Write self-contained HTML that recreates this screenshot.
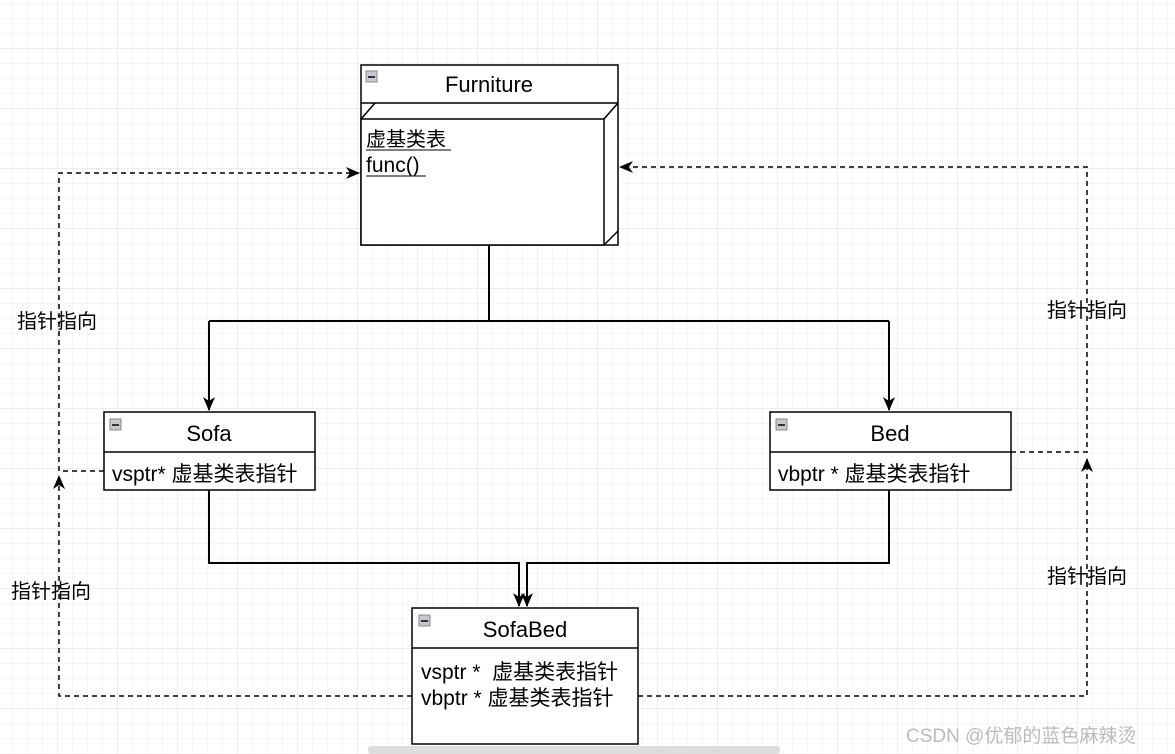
<!DOCTYPE html>
<html><head><meta charset="utf-8"><style>
html,body{margin:0;padding:0;background:#fff;}
svg{display:block;font-family:"Liberation Sans","Noto Sans CJK SC",sans-serif;}
</style></head><body>
<svg width="1175" height="754" viewBox="0 0 1175 754" xmlns="http://www.w3.org/2000/svg">
<defs>
<pattern id="minor" x="12" y="3" width="15" height="15" patternUnits="userSpaceOnUse">
<path d="M0 0H15M0 0V15" stroke="#eeeeee" stroke-width="1" fill="none"/>
</pattern>
<pattern id="major" x="57" y="48" width="60" height="60" patternUnits="userSpaceOnUse">
<path d="M0 0H60M0 0V60" stroke="#dcdcdc" stroke-width="1" fill="none"/>
</pattern>
<marker id="ar" markerWidth="16" markerHeight="14" refX="13" refY="7" orient="auto" markerUnits="userSpaceOnUse">
<path d="M0 1 L14 7 L0 13 L4 7 Z" fill="#000"/>
</marker>
</defs>
<rect width="1175" height="754" fill="#fff"/>
<rect width="1175" height="754" fill="url(#minor)"/>
<rect width="1175" height="754" fill="url(#major)"/>

<g stroke="#000" stroke-width="2" fill="none">
<path d="M489 245V321M209 321H889"/>
<path d="M209 321V410" marker-end="url(#ar)"/>
<path d="M889 321V410" marker-end="url(#ar)"/>
<path d="M209 490V563H519V606" marker-end="url(#ar)"/>
<path d="M889 490V563H527V606" marker-end="url(#ar)"/>
</g>

<g stroke="#000" stroke-width="1.5" fill="none" stroke-dasharray="5,4">
<path d="M104 471H59V173H359" marker-end="url(#ar)"/>
<path d="M412 696H59V476" marker-end="url(#ar)"/>
<path d="M1011 452H1087V167H620" marker-end="url(#ar)"/>
<path d="M638 696H1087V459" marker-end="url(#ar)"/>
</g>

<g stroke="#000" stroke-width="1.5" fill="#fff">
<rect x="361" y="65" width="257" height="180"/>
<line x1="361" y1="103" x2="618" y2="103"/>
<rect x="361" y="119" width="243" height="126"/>
<path d="M361 119L375 103M604 119L618 103M604 245L618 231" fill="none"/>
</g>
<rect x="366" y="71" width="11" height="11" fill="#c8c8d0" stroke="#888" stroke-width="1"/>
<rect x="368" y="76" width="7" height="2" fill="#333"/>
<text x="489" y="92" font-size="22" text-anchor="middle">Furniture</text>
<text x="366" y="146" font-size="20">虚基类表</text>
<line x1="366" y1="150" x2="451" y2="150" stroke="#000" stroke-width="1"/>
<text x="366" y="172" font-size="21">func()</text>
<line x1="366" y1="176" x2="426" y2="176" stroke="#000" stroke-width="1"/>

<g stroke="#000" stroke-width="1.5" fill="#fff">
<rect x="104" y="412" width="211" height="78"/>
<line x1="104" y1="452" x2="315" y2="452"/>
</g>
<rect x="110" y="419" width="11" height="11" fill="#c8c8d0" stroke="#888" stroke-width="1"/>
<rect x="112" y="424" width="7" height="2" fill="#333"/>
<text x="209" y="441" font-size="22" text-anchor="middle">Sofa</text>
<text x="112" y="481" font-size="21">vsptr* 虚基类表指针</text>

<g stroke="#000" stroke-width="1.5" fill="#fff">
<rect x="770" y="412" width="241" height="78"/>
<line x1="770" y1="452" x2="1011" y2="452"/>
</g>
<rect x="776" y="419" width="11" height="11" fill="#c8c8d0" stroke="#888" stroke-width="1"/>
<rect x="778" y="424" width="7" height="2" fill="#333"/>
<text x="890" y="441" font-size="22" text-anchor="middle">Bed</text>
<text x="778" y="481" font-size="21">vbptr * 虚基类表指针</text>

<g stroke="#000" stroke-width="1.5" fill="#fff">
<rect x="412" y="608" width="226" height="136"/>
<line x1="412" y1="648" x2="638" y2="648"/>
</g>
<rect x="419" y="615" width="11" height="11" fill="#c8c8d0" stroke="#888" stroke-width="1"/>
<rect x="421" y="620" width="7" height="2" fill="#333"/>
<text x="525" y="637" font-size="22" text-anchor="middle">SofaBed</text>
<text x="421" y="679" font-size="21" xml:space="preserve">vsptr *  虚基类表指针</text>
<text x="421" y="705" font-size="21">vbptr * 虚基类表指针</text>

<g font-size="20">
<text x="17" y="328">指针指向</text>
<text x="1047" y="317">指针指向</text>
<text x="11" y="598">指针指向</text>
<text x="1047" y="583">指针指向</text>
</g>
<text x="906" y="742" font-size="19" fill="#bbbbbb">CSDN @优郁的蓝色麻辣烫</text>
<rect x="368" y="746" width="412" height="8" rx="3" fill="#dddddd"/>
</svg>
</body></html>
